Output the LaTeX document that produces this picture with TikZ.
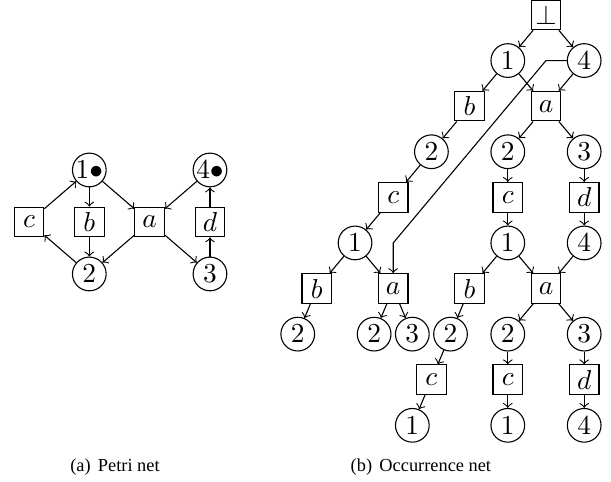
\documentclass[tikz,border=0pt]{standalone}
\usepackage{amssymb}
\usepackage{amsmath}
\usepackage{fontspec}
\newfontfamily\capfont{Liberation Serif}
\usepackage{tikz}

\begin{document}
\begin{tikzpicture}[
    place/.style = {draw,circle,inner sep=0pt,minimum size=12.3pt},
    trans/.style = {draw,rectangle,inner sep=0pt,minimum size=10.8pt},
    caption/.style = {font=\capfont\fontsize{6.7}{8}\selectfont}
  ]
    \useasboundingbox (0,0) rectangle (7.839,-6.184);

    % (a) the net
    \begin{scope}[shift={(0.372,-2.848)}, x=0.774cm, y=0.667cm]
    \node[place] (l1) at (1,1) {$1\bullet$};
    \node[place] (l4) at (3,1) {$4\bullet$};
    \node[trans] (lc) at (0,0) {$c$};
    \node[trans] (lb) at (1,0) {$b$};
    \node[trans] (la) at (2,0) {$a$};
    \node[trans] (ld) at (3,0) {$d$};
    \node[place] (l2) at (1,-1) {$2$};
    \node[place] (l3) at (3,-1) {$3$};
    \draw[->] (l2) to (lc);
    \draw[->] (lc) to (l1);
    \draw[->] (l1) to (lb);
    \draw[->] (lb) to (l2);
    \draw[->] (l1) to (la);
    \draw[->] (l4) to (la);
    \draw[->] (la) to (l2);
    \draw[->] (la) to (l3);
    \draw[->] (l3) to (ld);
    \draw[->] (ld) to (l4);
    \end{scope}

    % (b) its unfolding
    \begin{scope}[shift={(7.005,-0.192)}, x=0.490cm, y=-0.585cm]
    \node[trans] (bot) at (0,0) {$\bot$};
    \node[place] (1a) at (-1,1) {$1$};
    \node[place] (4a) at (1,1) {$4$};
    \node[trans] (ba) at (-2,2) {$b$};
    \node[trans] (aa) at (0,2) {$a$};
    \node[place] (2a) at (-3,3) {$2$};
    \node[place] (2b) at (-1,3) {$2$};
    \node[place] (3a) at (1,3) {$3$};
    \node[trans] (ca) at (-4,4) {$c$};
    \node[trans] (cb) at (-1,4) {$c$};
    \node[trans] (da) at (1,4) {$d$};
    \node[place] (1b) at (-5,5) {$1$};
    \node[place] (1c) at (-1,5) {$1$};
    \node[place] (4b) at (1,5) {$4$};
    \node[trans] (bb) at (-6,6) {$b$};
    \node[trans] (ab) at (-4,6) {$a$};
    \node[trans] (bc) at (-2,6) {$b$};
    \node[trans] (ac) at (0,6) {$a$};
    \node[place] (2c) at (-6.5,7) {$2$};
    \node[place] (2d) at (-4.5,7) {$2$};
    \node[place] (3b) at (-3.5,7) {$3$};
    \node[place] (2e) at (-2.5,7) {$2$};
    \node[place] (2f) at (-1,7) {$2$};
    \node[place] (3c) at (1,7) {$3$};
    \node[trans] (cc) at (-3,8) {$c$};
    \node[trans] (cd) at (-1,8) {$c$};
    \node[trans] (db) at (1,8) {$d$};
    \node[place] (1d) at (-3.5,9) {$1$};
    \node[place] (1e) at (-1,9) {$1$};
    \node[place] (4c) at (1,9) {$4$};
    \draw[->] (bot) to (1a);
    \draw[->] (bot) to (4a);
    \draw[->] (1a) to (ba);
    \draw[->] (1a) to (aa);
    \draw[->] (4a) to (aa);
    \draw[->] (ba) to (2a);
    \draw[->] (aa) to (2b);
    \draw[->] (aa) to (3a);
    \draw[->] (2a) to (ca);
    \draw[->] (2b) to (cb);
    \draw[->] (3a) to (da);
    \draw[->] (ca) to (1b);
    \draw[->] (cb) to (1c);
    \draw[->] (da) to (4b);
    \draw[->] (1b) to (bb);
    \draw[->] (1b) to (ab);
    \draw[->] (4a.west) -- (bot |- 4a) -- (ab |- 1b) -- (ab);
    \draw[->] (1c) to (bc);
    \draw[->] (1c) to (ac);
    \draw[->] (4b) to (ac);
    \draw[->] (bb) to (2c);
    \draw[->] (ab) to (2d);
    \draw[->] (ab) to (3b);
    \draw[->] (bc) to (2e);
    \draw[->] (ac) to (2f);
    \draw[->] (ac) to (3c);
    \draw[->] (2e) to (cc);
    \draw[->] (2f) to (cd);
    \draw[->] (3c) to (db);
    \draw[->] (cc) to (1d);
    \draw[->] (cd) to (1e);
    \draw[->] (db) to (4c);
    \end{scope}

    \node[caption] (capa) at (1.475,-5.99) {(a)\hspace{0.4em}Petri net};
    \node[caption] (capb) at (5.40,-5.99) {(b)\hspace{0.4em}Occurrence net};
\end{tikzpicture}
\end{document}
